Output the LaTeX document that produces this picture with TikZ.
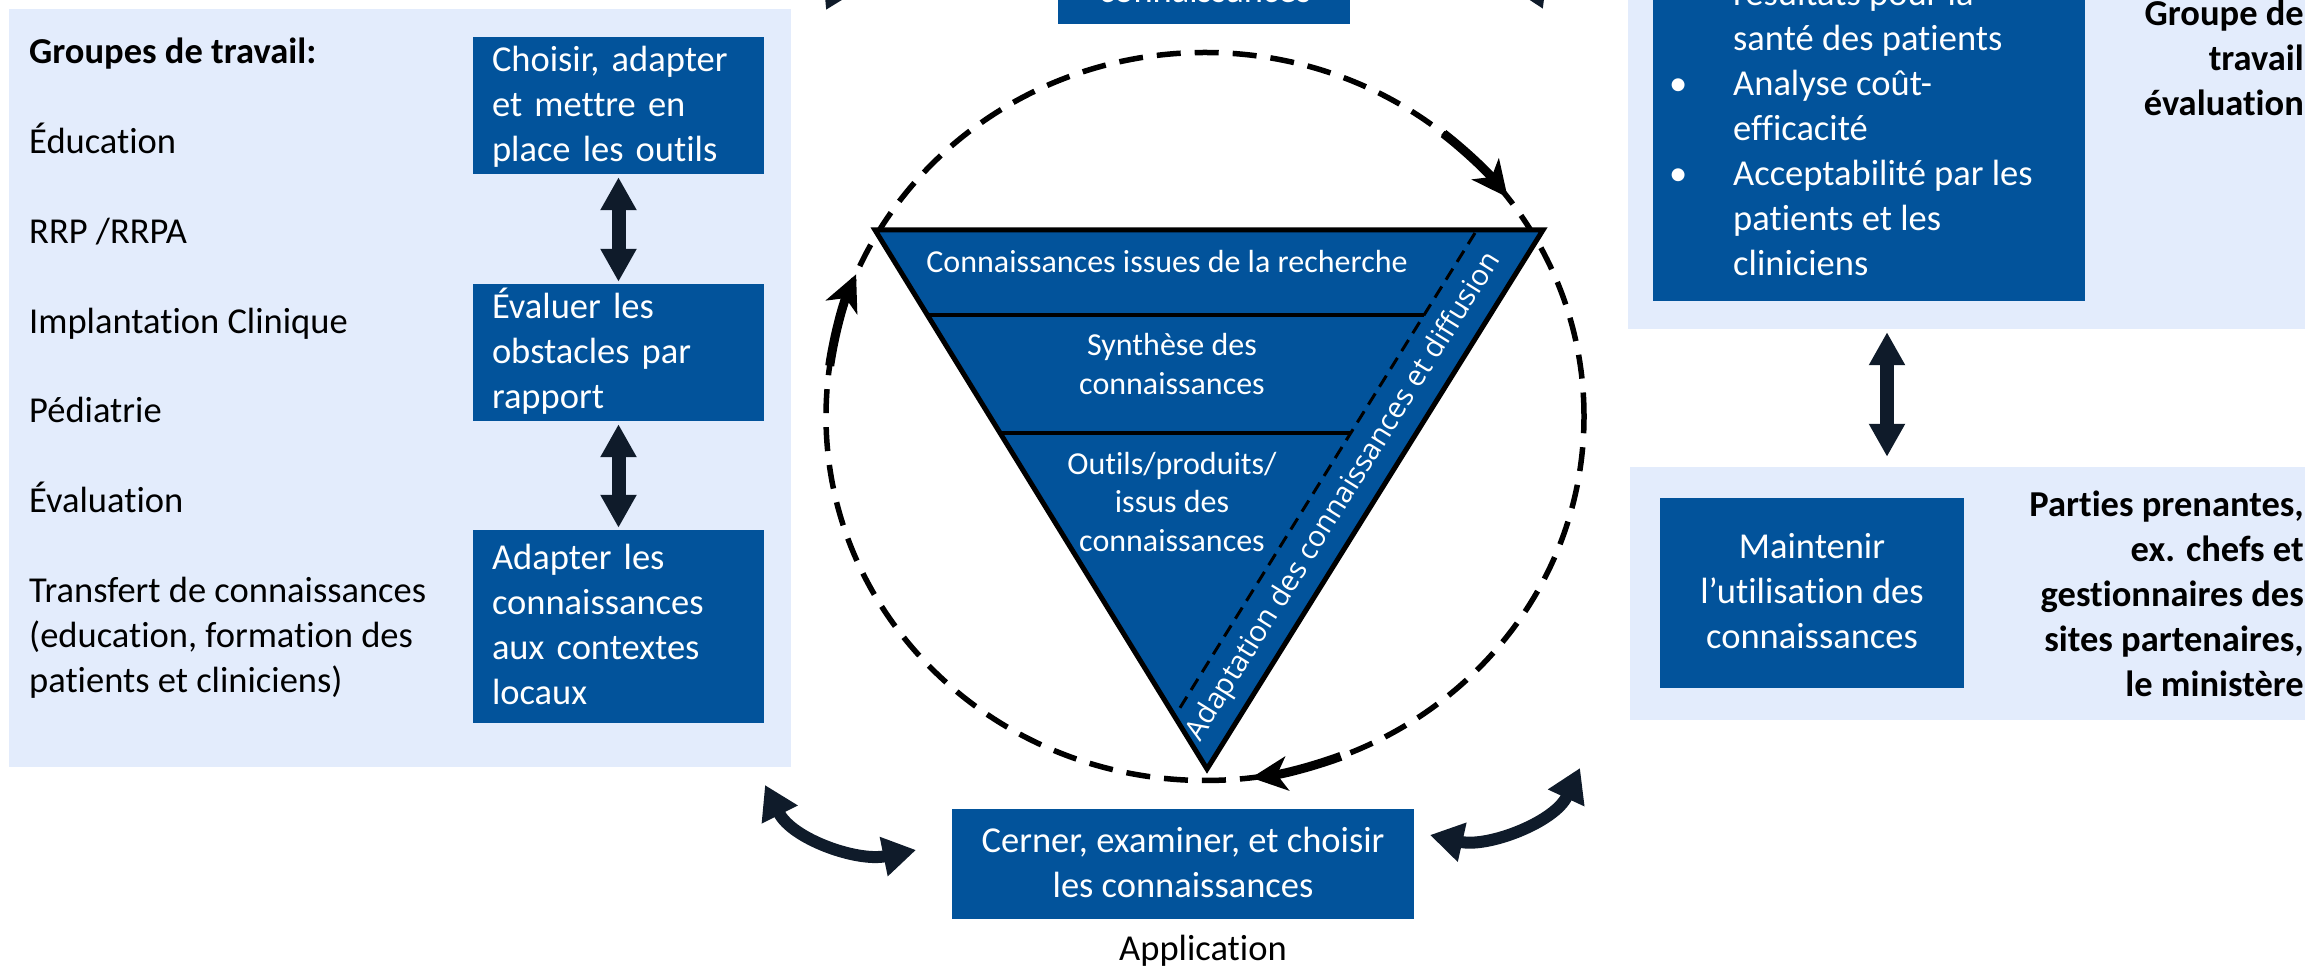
\documentclass[tikz,border=0pt]{standalone}
\usepackage{fontspec}
\setmainfont{Carlito}[Ligatures=CommonOff]
\newfontfamily\osans{Open Sans}
\usetikzlibrary{arrows.meta,calc}
\definecolor{dblue}{HTML}{02539B}
\definecolor{lblue}{HTML}{E3ECFC}
\definecolor{navy}{HTML}{0F1B2A}
\newcommand\fbig{\fontsize{36.5pt}{45pt}\selectfont}
\newcommand\sbig{\rule[-11.5pt]{0pt}{45pt}}
\newcommand\fsml{\fontsize{32pt}{38.5pt}\selectfont}
\newcommand\ssml{\rule[-9.65pt]{0pt}{38.5pt}}
\begin{document}
\begin{tikzpicture}[x=1pt,y=1pt,
  panel/.style={fill=lblue, draw=none, inner sep=0pt},
  dbox/.style={fill=dblue, draw=none, text=white, font=\fbig, inner sep=0pt},
  lbox/.style={dbox, text width=253pt, align=left, inner xsep=19pt, inner ysep=0pt},
  lbl/.style={anchor=west, inner sep=0pt, font=\fbig},
  ttext/.style={text=white, font=\fsml, inner sep=0pt},
  varrow/.style={navy, line width=14pt, {Triangle[length=33pt,width=34pt]}-{Triangle[length=33pt,width=34pt]}},
  carr/.style={navy, line width=12pt, {Triangle[length=33pt,width=38pt]}-{Triangle[length=33pt,width=38pt]}},
  circarr/.style={black, line width=9pt, -{Stealth[length=36pt,width=34pt,inset=10pt]}},
  ]
\path[use as bounding box, fill=white] (0,0) rectangle (2305,966);

% ---------- left panel ----------
\node[panel, minimum width=782pt, minimum height=758pt] (lpanel) at (400,578) {};
\node[lbl, font=\fbig\bfseries] (g0) at (29,913) {\sbig Groupes de travail:};
\node[lbl] (g1) at (29,823) {\sbig Éducation};
\node[lbl] (g2) at (29,733) {\sbig RRP /RRPA};
\node[lbl] (g3) at (29,643) {\sbig Implantation Clinique};
\node[lbl] (g4) at (29,554) {\sbig Pédiatrie};
\node[lbl] (g5) at (29,464) {\sbig Évaluation};
\node[lbl, align=left] (g6) at (29,329.5) {\sbig Transfert de connaissances\\\sbig (education, formation des\\\sbig patients et cliniciens)};

\node[lbox, minimum height=137pt] (b1) at (618.5,860.5) {\sbig Choisir, adapter\\\sbig et mettre en\\\sbig place les outils};
\node[lbox, minimum height=137pt] (b2) at (618.5,613.5) {\sbig Évaluer les\\\sbig obstacles par\\\sbig rapport};
\node[lbox, minimum height=193pt] (b3) at (618.5,339.5) {\sbig Adapter les\\\sbig connaissances\\\sbig aux contextes\\\sbig locaux};
\draw[varrow, shorten <=3pt, shorten >=2pt] (b1.south) -- (b2.north);
\draw[varrow, shorten <=3pt, shorten >=2pt] (b2.south) -- (b3.north);

% ---------- top box (cut) ----------
\node[dbox, minimum width=292pt, minimum height=40pt] (tbox) at (1204,962) {};
\node[anchor=base, text=white, font=\fbig, inner sep=0pt] (ttxt) at (1205,963) {connaissances};

% ---------- dashed cycle ----------
\coordinate (cc) at (1205,549.5);
\draw[line width=5.5pt, dash pattern=on 24pt off 14pt] (cc) ellipse [x radius=379pt, y radius=364pt];

% ---------- triangle ----------
\coordinate (TL) at (875,736);
\coordinate (TR) at (1543,736);
\coordinate (AP) at (1207,197);
\filldraw[fill=dblue, draw=black, line width=5pt, line join=miter] (TL) -- (TR) -- (AP) -- cycle;
\draw[line width=4pt] (927.4,651) -- (1424,651);
\draw[line width=4pt] (1000,533) -- (1351,533);
\draw[line width=3pt, dash pattern=on 13pt off 8pt] (1475,733) -- (1178,255);
\node[ttext] (t1) at (1167,703) {\ssml Connaissances issues de la recherche};
\node[ttext, align=center] (t2) at (1172,600.5) {\ssml Synthèse des\\\ssml connaissances};
\node[ttext, align=center] (t3) at (1172,463) {\ssml Outils/produits/\\\ssml issus des\\\ssml connaissances};
\node[text=white, font=\osans\fontsize{29pt}{34pt}\selectfont, rotate=58.1, inner sep=0pt] (t4) at (1344,469) {Adaptation des connaissances et diffusion};

% ---------- arrows on the cycle ----------
\draw[circarr] ([shift={(51:379pt and 364pt)}]cc) arc[start angle=51, end angle=37, x radius=379pt, y radius=364pt];
\draw[circarr] ([shift={(172:379pt and 364pt)}]cc) arc[start angle=172, end angle=157, x radius=379pt, y radius=364pt];
\draw[circarr] ([shift={(-69:379pt and 364pt)}]cc) arc[start angle=-69, end angle=-83, x radius=379pt, y radius=364pt];

% ---------- bottom box ----------
\node[dbox, minimum width=462pt, minimum height=110pt, align=center] (cbox) at (1183,102) {\sbig Cerner, examiner, et choisir\\\sbig les connaissances};
\node[inner sep=0pt, font=\fbig] (app) at (1203,16) {\sbig Application};

% ---------- curved double arrows ----------
\coordinate (bl1) at (765,181); \coordinate (bl2) at (916,116);
\draw[carr] (bl1) .. controls (792,127) and (857,104) .. (bl2);
\coordinate (br1) at (1430,131); \coordinate (br2) at (1580,198);
\draw[carr] (br1) .. controls (1488,118) and (1555,144) .. (br2);
\coordinate (tl1) at (826,956); \coordinate (tl2) at (977,1021);
\draw[carr] (tl1) .. controls (853,1010) and (918,1033) .. (tl2);
\coordinate (tr1) at (1393,1024); \coordinate (tr2) at (1543,957);
\draw[carr] (tr1) .. controls (1451,1037) and (1518,1011) .. (tr2);

% ---------- right top panel ----------
\node[panel, minimum width=682pt, minimum height=343pt] (rtpanel) at (1969,808.5) {};
\node[dbox, minimum width=432pt, minimum height=320pt] (rtbox) at (1869,825) {};
\node[anchor=west, text=white, font=\fbig, align=left, inner sep=0pt] (rtxt) at (1669,836)
  {\sbig\hspace*{64pt}résultats pour la\\
   \sbig\hspace*{64pt}santé des patients\\
   \sbig\makebox[64pt][l]{\textbullet}Analyse coût-\\
   \sbig\hspace*{64pt}efficacité\\
   \sbig\makebox[64pt][l]{\textbullet}Acceptabilité par les\\
   \sbig\hspace*{64pt}patients et les\\
   \sbig\hspace*{64pt}cliniciens};
\node[anchor=east, font=\fbig\bfseries, align=right, inner sep=0pt] (rgrp) at (2304,906) {\sbig Groupe de\\\sbig travail\\\sbig évaluation};

% ---------- right bottom panel ----------
\node[panel, minimum width=680pt, minimum height=253pt] (rbpanel) at (1970,372.5) {};
\node[dbox, minimum width=304pt, minimum height=190pt, align=center] (rbbox) at (1812,373) {\sbig Maintenir\\\sbig l’utilisation des\\\sbig connaissances};
\node[anchor=east, font=\fbig\bfseries, align=right, inner sep=0pt] (rparts) at (2304,370) {\sbig Parties prenantes,\\\sbig ex. chefs et\\\sbig gestionnaires des\\\sbig sites partenaires,\\\sbig le ministère};

\coordinate (rax) at (1887,0);
\draw[varrow, shorten <=3pt, shorten >=10pt] (rtpanel.south -| rax) -- (rbpanel.north -| rax);
\end{tikzpicture}
\end{document}
